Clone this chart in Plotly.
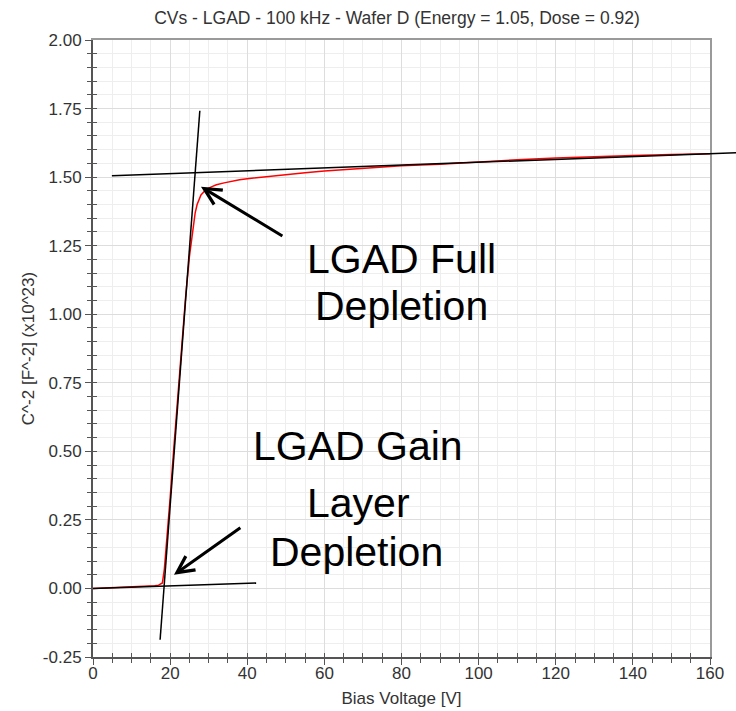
import plotly.graph_objects as go

W, H = 736, 711

# Measured C^-2 (x10^23 F^-2) versus reverse bias
bias_v = [0, 2, 4, 6, 8, 10, 12, 14, 16, 17, 18, 18.5, 19, 20, 21, 22, 23, 24,
          25, 25.5, 26, 26.5, 27, 27.5, 28, 29, 30, 31, 32, 34, 36, 38, 40, 45,
          50, 55, 60, 70, 80, 90, 100, 110, 120, 130, 140, 150, 160]
inv_c2 = [0.000, 0.001, 0.002, 0.003, 0.004, 0.005, 0.007, 0.008, 0.010, 0.012,
          0.020, 0.070, 0.150, 0.330, 0.520, 0.710, 0.890, 1.060, 1.210, 1.270,
          1.330, 1.370, 1.400, 1.420, 1.435, 1.450, 1.460, 1.466, 1.472, 1.479,
          1.485, 1.490, 1.494, 1.502, 1.510, 1.516, 1.522, 1.532, 1.541, 1.547,
          1.556, 1.563, 1.570, 1.575, 1.579, 1.582, 1.585]

# Straight-line fits used to locate the depletion voltages
fit_gain_v = [0.0, 42.3]
fit_gain_c = [0.0, 0.020]
fit_rise_v = [17.4, 27.7]
fit_rise_c = [-0.187, 1.742]
fit_bulk_v = [4.9, 166.8]
fit_bulk_c = [1.5046, 1.589]

x_range = [0, 160]
y_range = [-0.25, 2.0]
x_ticks = [0, 20, 40, 60, 80, 100, 120, 140, 160]
y_ticks = [-0.25, 0.0, 0.25, 0.5, 0.75, 1.0, 1.25, 1.5, 1.75, 2.0]
y_tick_text = ["-0.25", "0.00", "0.25", "0.50", "0.75", "1.00", "1.25",
               "1.50", "1.75", "2.00"]

title_text = "CVs - LGAD - 100 kHz - Wafer D (Energy = 1.05, Dose = 0.92)"
x_title = "Bias Voltage [V]"
y_title = "C^-2 [F^-2] (x10^23)"

# Callout labels: (text, x, y) in data units
full_label = [("LGAD Full", 80.0, 1.2000), ("Depletion", 80.0, 1.0306)]
gain_label = [("LGAD Gain", 68.6, 0.519), ("Layer", 68.9, 0.3110),
              ("Depletion", 68.3, 0.134)]
# Arrows: (head V, head C, tail V, tail C)
full_arrow = (28.0, 1.465, 49.5, 1.282)
gain_arrow = (21.0, 0.050, 38.6, 0.225)

# Plot-area edges in pixels (margins are zero, so paper == window)
left_px, right_px, top_px, bottom_px = 93, 710, 40, 657
xd = [left_px / W, right_px / W]
yd = [1 - bottom_px / H, 1 - top_px / H]


def full_window_range(rng, dom):
    span = (rng[1] - rng[0]) / (dom[1] - dom[0])
    return [rng[0] - dom[0] * span, rng[1] + (1 - dom[1]) * span]


FONT = "Liberation Sans, Arial, Helvetica, sans-serif"
TXT = "#333333"
AX = "#555555"

fig = go.Figure()

fig.add_trace(go.Scatter(x=bias_v, y=inv_c2, mode="lines",
                         line=dict(color="#ff0000", width=1.5),
                         showlegend=False, hoverinfo="skip"))

# Inner tick marks / darker left-bottom axis lines
fig.add_trace(go.Scatter(x=[], y=[], xaxis="x2", yaxis="y2", showlegend=False))

# Fit lines live on full-window axes so they can run past the frame
for vs, cs in [(fit_gain_v, fit_gain_c), (fit_rise_v, fit_rise_c),
               (fit_bulk_v, fit_bulk_c)]:
    fig.add_trace(go.Scatter(x=vs, y=cs, mode="lines", xaxis="x3", yaxis="y3",
                             line=dict(color="black", width=1.5),
                             showlegend=False, hoverinfo="skip"))

common_main = dict(showline=True, linecolor="#9a9a9a", linewidth=2, mirror=True,
                   zeroline=False, ticks="outside", ticklen=6, tickwidth=1,
                   tickcolor=AX, showgrid=True, gridcolor="#dddddd", gridwidth=1,
                   tickfont=dict(size=17, color=TXT, family=FONT),
                   automargin=False)

fig.update_layout(
    template="none",
    width=W, height=H,
    margin=dict(l=0, r=0, t=0, b=0),
    paper_bgcolor="white",
    plot_bgcolor="rgba(0,0,0,0)",
    font=dict(family=FONT, color=TXT),
    title=dict(text=title_text, x=397 / W, xref="paper",
               xanchor="center", y=1 - 18 / H, yref="container",
               yanchor="middle", font=dict(size=17.5, color=TXT, family=FONT)),
    xaxis=dict(domain=xd, range=x_range, tickvals=x_ticks, anchor="y",
               ticklabelstandoff=-6,
               minor=dict(dtick=5, tick0=0, ticks="outside", ticklen=4,
                          tickcolor=AX, showgrid=True, gridcolor="#eeeeee"),
               title=dict(text=x_title, font=dict(size=17, color=TXT),
                          standoff=10),
               **common_main),
    yaxis=dict(domain=yd, range=y_range, tickvals=y_ticks, ticktext=y_tick_text,
               anchor="x",
               minor=dict(dtick=0.05, tick0=0, ticks="outside", ticklen=4,
                          tickcolor=AX, showgrid=True, gridcolor="#eeeeee"),
               title=dict(text=y_title, font=dict(size=17, color=TXT),
                          standoff=4),
               **common_main),
    xaxis2=dict(overlaying="x", anchor="y", side="bottom", range=x_range,
                tickvals=x_ticks, ticks="inside", ticklen=4, tickcolor=AX,
                minor=dict(dtick=5, tick0=0, ticks="inside", ticklen=4,
                           tickcolor=AX, showgrid=False),
                showticklabels=False, showgrid=False, zeroline=False,
                showline=True, linecolor=AX, linewidth=2, automargin=False),
    yaxis2=dict(overlaying="y", anchor="x", side="left", range=y_range,
                tickvals=y_ticks, ticks="inside", ticklen=4, tickcolor=AX,
                minor=dict(dtick=0.05, tick0=0, ticks="inside", ticklen=4,
                           tickcolor=AX, showgrid=False),
                showticklabels=False, showgrid=False, zeroline=False,
                showline=True, linecolor=AX, linewidth=2, automargin=False),
    xaxis3=dict(domain=[0, 1], anchor="y3", range=full_window_range(x_range, xd),
                visible=False, showgrid=False, zeroline=False),
    yaxis3=dict(domain=[0, 1], anchor="x3", range=full_window_range(y_range, yd),
                visible=False, showgrid=False, zeroline=False),
    showlegend=False,
)

for text, x, y in full_label + gain_label:
    fig.add_annotation(x=x, y=y, xref="x", yref="y", text=text, showarrow=False,
                       xanchor="center", yanchor="middle",
                       font=dict(size=41, color="black", family=FONT))

for hx, hy, tx, ty in [full_arrow, gain_arrow]:
    fig.add_annotation(x=hx, y=hy, ax=tx, ay=ty, xref="x", yref="y",
                       axref="x", ayref="y", text="", showarrow=True,
                       arrowhead=5, arrowsize=1.1, arrowwidth=3,
                       arrowcolor="black", standoff=0)

fig.write_html("out.html")
